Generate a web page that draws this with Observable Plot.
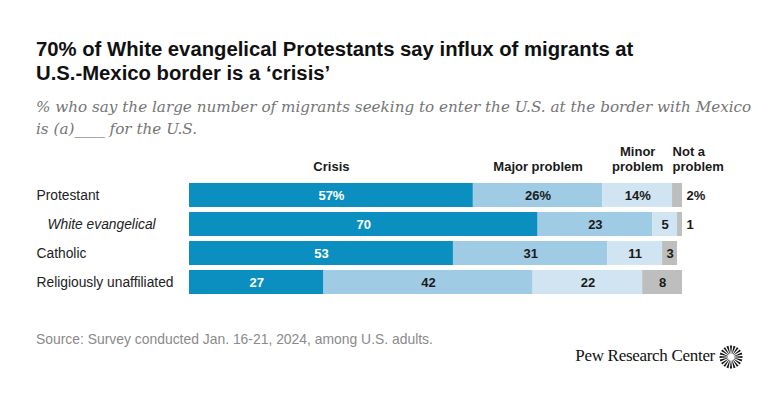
<!DOCTYPE html>
<html><head><meta charset="utf-8">
<script src="https://cdn.jsdelivr.net/npm/d3@7"></script>
<script src="https://cdn.jsdelivr.net/npm/@observablehq/plot@0.6"></script>
<style>
body{margin:0;background:#fff;width:768px;height:402px;position:relative;overflow:hidden;font-family:"Liberation Sans",Arial,sans-serif;}
#title{position:absolute;left:36px;top:37px;font-size:20.3px;line-height:24px;font-weight:700;color:#111;white-space:nowrap;}
#subtitle{position:absolute;left:36px;top:96px;font-family:"DejaVu Serif",serif;font-style:italic;font-size:15.2px;line-height:22px;color:#757575;white-space:nowrap;}
#chart{position:absolute;left:0;top:140px;}
#source{position:absolute;left:36px;top:331px;font-size:13.9px;line-height:16px;color:#8a8a8a;white-space:nowrap;}
#logo{position:absolute;right:53px;top:346px;font-family:"Liberation Serif",serif;font-size:17px;line-height:20px;color:#111;letter-spacing:-0.3px;white-space:nowrap;}
#icon{position:absolute;left:719px;top:345px;}
</style></head>
<body>
<div id="title">70% of White evangelical Protestants say influx of migrants at<br>U.S.-Mexico border is a ‘crisis’</div>
<div id="subtitle">% who say the large number of migrants seeking to enter the U.S. at the border with Mexico<br>is (a)____ for the U.S.</div>
<div id="chart"></div>
<div id="source">Source: Survey conducted Jan. 16-21, 2024, among U.S. adults.</div>
<div id="logo">Pew Research Center</div>
<svg id="icon" width="24" height="24"></svg>
<script>
const groups = ["Protestant", "White evangelical", "Catholic", "Religiously unaffiliated"];
const responses = ["Crisis", "Major problem", "Minor problem", "Not a problem"];
const headers = ["Crisis", "Major problem", "Minor\nproblem", "Not a\nproblem"];
const crisis = [57, 70, 53, 27];
const major = [26, 23, 31, 42];
const minor = [14, 5, 11, 22];
const notProblem = [2, 1, 3, 8];
const colors = ["#0A8FC0", "#A0CBE5", "#D0E4F1", "#BEBEBE"];

const series = [crisis, major, minor, notProblem];
const rows = [];
groups.forEach((g, i) => {
  let acc = 0;
  responses.forEach((r, j) => {
    const v = series[j][i];
    rows.push({group: g, response: r, value: v, x1: acc, x2: acc + v, mid: acc + v / 2,
      label: i === 0 ? v + "%" : String(v), gi: i, ri: j, header: headers[j]});
    acc += v;
  });
});
const outside = d => d.ri === 3 && d.value <= 2;

const chart = Plot.plot({
  width: 768, height: 163,
  marginLeft: 189, marginRight: 81, marginTop: 39, marginBottom: 5,
  style: {fontFamily: "Liberation Sans, Arial, sans-serif", fontSize: "13px", background: "white"},
  x: {domain: [0, 100], axis: null},
  y: {domain: groups, axis: null, paddingInner: 0.16, paddingOuter: 0.08},
  color: {domain: responses, range: colors},
  marks: [
    Plot.barX(rows, {x1: "x1", x2: "x2", y: "group", fill: "response"}),
    Plot.text(rows.filter(d => d.ri === 0), {x: "mid", y: "group", text: "label", fill: "white", fontWeight: "bold", fontSize: 13}),
    Plot.text(rows.filter(d => d.ri > 0 && !outside(d)), {x: "mid", y: "group", text: "label", fill: "#1a1a1a", fontWeight: "bold", fontSize: 13}),
    Plot.text(rows.filter(outside), {x: "x2", y: "group", text: "label", fill: "#1a1a1a", fontWeight: "bold", fontSize: 13, textAnchor: "start", dx: 4}),
    Plot.text(rows.filter(d => d.gi === 0 && d.ri < 3), {x: "mid", frameAnchor: "top", text: "header", fill: "#1a1a1a", fontWeight: "bold", fontSize: 13, lineAnchor: "bottom", lineHeight: 1.15, dy: -9}),
    Plot.text(rows.filter(d => d.gi === 0 && d.ri === 3), {x: "x1", frameAnchor: "top", text: "header", fill: "#1a1a1a", fontWeight: "bold", fontSize: 13, lineAnchor: "bottom", lineHeight: 1.15, dy: -9, textAnchor: "start"}),
    Plot.text(groups.filter(g => g !== "White evangelical"), {y: d => d, frameAnchor: "left", text: d => d, textAnchor: "start", dx: -153, fill: "#222", fontSize: 13.8}),
    Plot.text(["White evangelical"], {y: d => d, frameAnchor: "left", text: d => d, textAnchor: "start", dx: -142, fill: "#222", fontSize: 13.8, fontStyle: "italic"})
  ]
});
document.getElementById("chart").appendChild(chart);

// logo sunburst
const icon = d3.select("#icon").append("g").attr("transform", "translate(12,12)");
const n = 20;
for (let k = 0; k < n; k++) {
  const a = (k / n) * 2 * Math.PI;
  const w = 0.09;
  const r0 = 3.2, r1 = 11.5;
  const p = [[r0 * Math.cos(a - w * 0.5), r0 * Math.sin(a - w * 0.5)],
             [r1 * Math.cos(a - w), r1 * Math.sin(a - w)],
             [r1 * Math.cos(a + w), r1 * Math.sin(a + w)],
             [r0 * Math.cos(a + w * 0.5), r0 * Math.sin(a + w * 0.5)]];
  icon.append("path").attr("d", "M" + p.join("L") + "Z").attr("fill", "#111");
}
</script>
</body></html>
